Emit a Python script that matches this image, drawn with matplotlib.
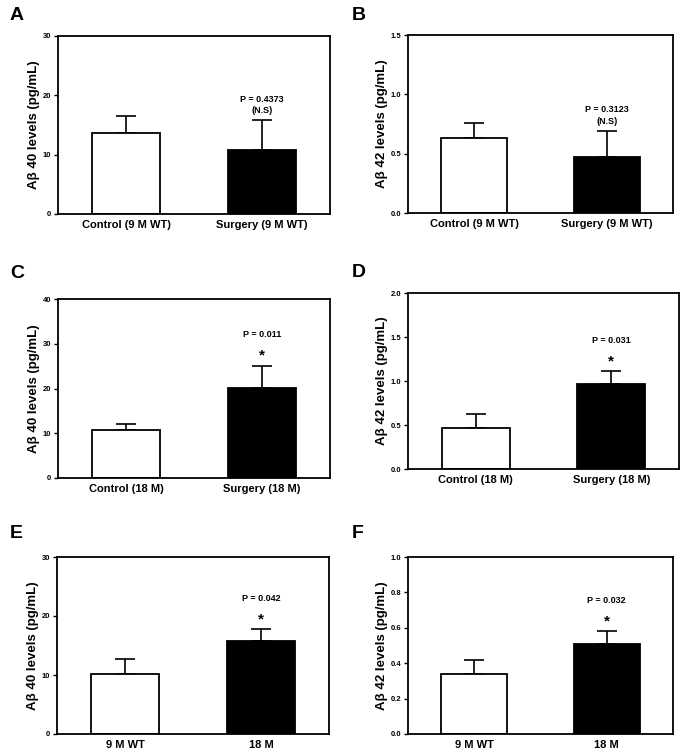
import numpy as np
import matplotlib
matplotlib.use("Agg")
import matplotlib.pyplot as plt

plt.rcParams['font.family'] = ['Liberation Sans', 'DejaVu Sans']
plt.rcParams['font.weight'] = 'bold'

# panel data
letters = ['A', 'B', 'C', 'D', 'E', 'F']
groups = [['Control (9 M WT)', 'Surgery (9 M WT)'],
          ['Control (9 M WT)', 'Surgery (9 M WT)'],
          ['Control (18 M)', 'Surgery (18 M)'],
          ['Control (18 M)', 'Surgery (18 M)'],
          ['9 M WT', '18 M'],
          ['9 M WT', '18 M']]
means = [[13.6, 10.8], [0.63, 0.47], [10.7, 20.2],
         [0.47, 0.97], [10.2, 15.8], [0.34, 0.51]]
errs = [[3.0, 5.0], [0.13, 0.22], [1.3, 4.9],
        [0.16, 0.14], [2.5, 2.0], [0.08, 0.07]]
ylims = [30, 1.5, 40, 2.0, 30, 1.0]
yticks = [[0, 10, 20, 30], [0.0, 0.5, 1.0, 1.5], [0, 10, 20, 30, 40],
          [0.0, 0.5, 1.0, 1.5, 2.0], [0, 10, 20, 30],
          [0.0, 0.2, 0.4, 0.6, 0.8, 1.0]]
ticklabels = [['0', '10', '20', '30'], ['0.0', '0.5', '1.0', '1.5'],
              ['0', '10', '20', '30', '40'], ['0.0', '0.5', '1.0', '1.5', '2.0'],
              ['0', '10', '20', '30'], ['0.0', '0.2', '0.4', '0.6', '0.8', '1.0']]
ylabels = ['Aβ 40 levels (pg/mL)', 'Aβ 42 levels (pg/mL)'] * 3
pvals = ['P = 0.4373', 'P = 0.3123', 'P = 0.011', 'P = 0.031', 'P = 0.042', 'P = 0.032']
marks = ['(N.S)', '(N.S)', '*', '*', '*', '*']

W, H = 685, 754
fig = plt.figure(figsize=(W / 100, H / 100), dpi=100)

# axes boxes in pixels: left, top, right, bottom
boxes = [(58, 36, 330, 214), (408, 35, 673, 213),
         (58, 299, 330, 478), (408, 293, 679, 469),
         (57, 557, 329, 734), (408, 557, 673, 734)]
letter_pos = [(10, 16), (352, 16), (10, 274), (352, 273), (10, 534), (352, 534)]

for i in range(6):
    l, t, r, b = boxes[i]
    ax = fig.add_axes([l / W, 1 - b / H, (r - l) / W, (b - t) / H])
    x = np.arange(2)
    ax.bar(x, means[i], width=0.5, color=['white', 'black'],
           edgecolor='black', linewidth=1.3, zorder=2)
    ax.errorbar(x, means[i], yerr=[[0, 0], errs[i]], fmt='none',
                ecolor='black', elinewidth=1.2, capsize=7, capthick=1.2, zorder=1)
    ax.set_xlim(-0.5, 1.5)
    ax.set_ylim(0, ylims[i])
    ax.set_yticks(yticks[i])
    ax.set_yticklabels(ticklabels[i], fontsize=5.5, fontweight='bold')
    ax.set_xticks(x)
    ax.set_xticklabels(groups[i], fontsize=8, fontweight='bold')
    ax.tick_params(axis='x', length=0, pad=4)
    ax.tick_params(axis='y', length=3, width=1, pad=2, direction='out')
    for s in ax.spines.values():
        s.set_linewidth(1.3)
    ax.set_ylabel(ylabels[i], fontsize=9.5, fontweight='bold', labelpad=2)

    top = means[i][1] + errs[i][1]
    if marks[i] == '(N.S)':
        ax.annotate(marks[i], (1, top), xytext=(0, 4), textcoords='offset points',
                    ha='center', va='bottom', fontsize=6.5, fontweight='bold')
        ax.annotate(pvals[i], (1, top), xytext=(0, 12), textcoords='offset points',
                    ha='center', va='bottom', fontsize=6.5, fontweight='bold')
    else:
        ax.annotate(marks[i], (1, top), xytext=(0, 2), textcoords='offset points',
                    ha='center', va='bottom', fontsize=11, fontweight='bold')
        ax.annotate(pvals[i], (1, top), xytext=(0, 19), textcoords='offset points',
                    ha='center', va='bottom', fontsize=6.5, fontweight='bold')

    fig.text(letter_pos[i][0] / W, 1 - letter_pos[i][1] / H, letters[i],
             fontsize=14, fontweight='bold', ha='left', va='center')

fig.savefig('out.png', dpi=100)
